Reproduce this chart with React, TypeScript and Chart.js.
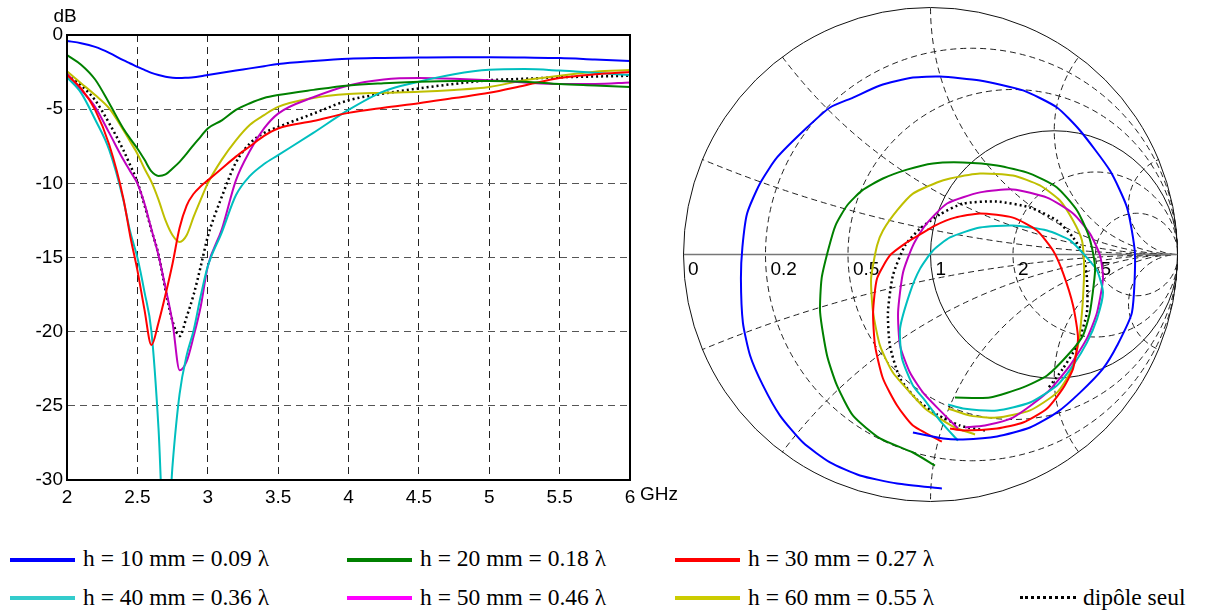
import { useEffect, useRef } from "react";
import { Chart, registerables } from "chart.js";
Chart.register(...registerables);

// ---------- Left chart data (|S11| in dB vs frequency in GHz) ----------
const freqGHz = [2.0, 2.1, 2.2, 2.3, 2.4, 2.45, 2.5, 2.55, 2.6, 2.65, 2.7, 2.75, 2.8, 2.85, 2.9, 2.95, 3.0, 3.1, 3.2, 3.3, 3.4, 3.5, 3.75, 4.0, 4.25, 4.5, 4.75, 5.0, 5.25, 5.5, 5.75, 6.0];
const dbH10 = [-0.4, -0.55, -0.8, -1.2, -1.7, -1.92, -2.15, -2.35, -2.55, -2.7, -2.82, -2.88, -2.9, -2.88, -2.85, -2.78, -2.7, -2.55, -2.4, -2.25, -2.1, -1.95, -1.75, -1.6, -1.55, -1.52, -1.5, -1.5, -1.52, -1.55, -1.65, -1.75];
const dbH20 = [-1.35, -2.0, -3.0, -4.6, -6.3, -7.0, -7.65, -8.4, -9.2, -9.5, -9.4, -9.0, -8.55, -8.0, -7.4, -6.85, -6.3, -5.75, -5.05, -4.6, -4.25, -4.05, -3.7, -3.4, -3.25, -3.15, -3.1, -3.1, -3.15, -3.3, -3.4, -3.5];
const dbH30 = [-2.7, -3.6, -5.05, -7.4, -11.0, -13.6, -15.85, -18.5, -20.9, -19.4, -17.5, -15.4, -13.0, -11.5, -10.7, -10.2, -9.8, -9.0, -8.2, -7.5, -6.8, -6.3, -5.8, -5.25, -4.9, -4.6, -4.25, -3.9, -3.4, -2.9, -2.65, -2.5];
const dbH40 = [-2.85, -3.9, -5.7, -7.75, -11.1, -13.3, -15.0, -17.3, -20.0, -26.5, -36, -29, -24.2, -21.6, -19.9, -17.6, -15.6, -13.3, -10.8, -9.5, -8.7, -8.1, -6.6, -5.05, -3.8, -3.15, -2.65, -2.35, -2.3, -2.4, -2.55, -2.7];
const dbH50 = [-2.6, -3.7, -4.85, -6.6, -8.4, -9.2, -10.0, -11.35, -13.1, -14.85, -17.05, -19.4, -22.6, -22.0, -20.3, -18.3, -15.6, -13.1, -9.8, -7.8, -6.3, -5.3, -4.2, -3.4, -3.0, -2.9, -2.95, -3.05, -3.2, -3.3, -3.3, -3.2];
const dbH60 = [-2.45, -3.25, -4.05, -4.95, -6.4, -7.2, -8.0, -9.0, -9.9, -11.1, -12.5, -13.5, -13.95, -13.5, -12.25, -11.1, -10.0, -8.4, -7.1, -6.05, -5.4, -4.85, -4.25, -3.98, -3.9, -3.83, -3.7, -3.5, -3.05, -2.75, -2.47, -2.36];
const dbDipole = [-2.7, -3.4, -4.4, -5.95, -7.75, -8.8, -9.9, -11.45, -13.15, -14.8, -17.2, -19.3, -20.3, -19.0, -17.5, -15.6, -13.6, -10.9, -8.6, -7.3, -6.6, -6.2, -5.3, -4.4, -3.95, -3.6, -3.3, -3.05, -2.95, -2.85, -2.8, -2.75];

const xMin = 2, xMax = 6, xStep = 0.5;
const yMin = -30, yMax = 0, yStep = 5;

// ---------- Smith chart data (reflection coefficient, real / imaginary) ----------
const h10Re = [0.046, -0.135, -0.285, -0.406, -0.515, -0.608, -0.677, -0.729, -0.758, -0.766, -0.760, -0.741, -0.689, -0.620, -0.499, -0.406, -0.313, -0.204, -0.071, 0.038, 0.200, 0.374, 0.511, 0.604, 0.725, 0.794, 0.826, 0.814, 0.754, 0.697, 0.604, 0.511, 0.402, 0.269, 0.131, 0.051, -0.071];
const h10Im = [-0.945, -0.925, -0.893, -0.840, -0.760, -0.651, -0.529, -0.408, -0.275, -0.097, 0.030, 0.166, 0.287, 0.392, 0.513, 0.594, 0.634, 0.683, 0.715, 0.719, 0.703, 0.663, 0.594, 0.501, 0.339, 0.190, 0.004, -0.234, -0.368, -0.461, -0.558, -0.638, -0.699, -0.735, -0.747, -0.743, -0.719];
const h20Re = [0.018, -0.071, -0.204, -0.313, -0.378, -0.418, -0.446, -0.440, -0.414, -0.384, -0.337, -0.276, -0.192, -0.095, 0.010, 0.131, 0.269, 0.402, 0.511, 0.592, 0.636, 0.657, 0.665, 0.644, 0.616, 0.564, 0.471, 0.374, 0.240, 0.099];
const h20Im = [-0.853, -0.800, -0.743, -0.651, -0.529, -0.408, -0.234, -0.097, 0.016, 0.117, 0.198, 0.259, 0.307, 0.343, 0.368, 0.372, 0.360, 0.327, 0.271, 0.178, 0.085, 0.004, -0.065, -0.234, -0.327, -0.396, -0.489, -0.537, -0.578, -0.578];
const h30Re = [0.046, -0.071, -0.135, -0.192, -0.224, -0.232, -0.216, -0.164, -0.103, -0.042, 0.018, 0.099, 0.200, 0.333, 0.430, 0.495, 0.535, 0.576, 0.596, 0.576, 0.535, 0.471, 0.374, 0.269, 0.131, 0.079];
const h30Im = [-0.756, -0.691, -0.610, -0.501, -0.368, -0.234, -0.097, -0.004, 0.044, 0.081, 0.117, 0.149, 0.166, 0.149, 0.097, 0.016, -0.073, -0.206, -0.339, -0.461, -0.541, -0.622, -0.679, -0.703, -0.711, -0.703];
const h40Re = [0.111, 0.038, -0.022, -0.071, -0.115, -0.123, -0.083, -0.042, 0.010, 0.079, 0.200, 0.333, 0.471, 0.564, 0.624, 0.673, 0.697, 0.673, 0.632, 0.576, 0.511, 0.402, 0.269, 0.131, 0.071];
const h40Im = [-0.752, -0.671, -0.590, -0.529, -0.420, -0.299, -0.154, -0.057, 0.016, 0.069, 0.109, 0.117, 0.097, 0.057, -0.004, -0.065, -0.154, -0.259, -0.356, -0.448, -0.529, -0.598, -0.630, -0.622, -0.606];
const h50Re = [0.111, 0.038, -0.030, -0.083, -0.123, -0.131, -0.111, -0.071, -0.022, 0.067, 0.200, 0.333, 0.471, 0.576, 0.644, 0.685, 0.697, 0.673, 0.632, 0.564, 0.471, 0.333, 0.220, 0.139];
const h50Im = [-0.703, -0.630, -0.558, -0.477, -0.368, -0.234, -0.073, 0.036, 0.117, 0.206, 0.251, 0.263, 0.230, 0.166, 0.085, -0.004, -0.097, -0.234, -0.339, -0.448, -0.558, -0.659, -0.691, -0.699];
const h60Re = [0.180, 0.099, 0.038, -0.022, -0.071, -0.152, -0.204, -0.232, -0.240, -0.216, -0.192, -0.135, -0.071, 0.026, 0.079, 0.200, 0.333, 0.442, 0.523, 0.576, 0.612, 0.620, 0.620, 0.612, 0.596, 0.564, 0.511, 0.402, 0.269, 0.160, 0.071];
const h60Im = [-0.727, -0.699, -0.663, -0.622, -0.570, -0.477, -0.368, -0.234, -0.097, 0.036, 0.097, 0.178, 0.246, 0.291, 0.307, 0.327, 0.319, 0.279, 0.218, 0.137, 0.057, -0.024, -0.097, -0.234, -0.368, -0.477, -0.558, -0.630, -0.659, -0.651, -0.622];
const dipoleRe = [0.220, 0.119, 0.026, -0.051, -0.123, -0.164, -0.172, -0.152, -0.103, -0.042, 0.038, 0.131, 0.269, 0.402, 0.511, 0.576, 0.616, 0.632, 0.632, 0.592, 0.535, 0.475];
const dipoleIm = [-0.711, -0.691, -0.646, -0.590, -0.501, -0.368, -0.234, -0.085, 0.036, 0.105, 0.162, 0.206, 0.214, 0.190, 0.137, 0.069, 0.004, -0.097, -0.234, -0.368, -0.461, -0.541];

const smithResistances = [0.2, 0.5, 2, 5];
const smithReactances = [0.2, 0.5, 1, 2, 5];
const smithAxisLabels = [0, 0.2, 0.5, 1, 2, 5];

// ---------- Series names and colours ----------
const seriesNames = ["h = 10 mm = 0.09 λ", "h = 20 mm = 0.18 λ", "h = 30 mm = 0.27 λ", "h = 40 mm = 0.36 λ", "h = 50 mm = 0.46 λ", "h = 60 mm = 0.55 λ", "dipôle seul"];
const lineColors = ["#0000ff", "#008000", "#ff0000", "#00bfbf", "#bf00bf", "#bfbf00", "#000000"];
const legendColors = ["#0000ff", "#008000", "#ff0000", "#33cccc", "#ff00ff", "#cccc00", "#000000"];

const dbSeries = [dbH10, dbH20, dbH30, dbH40, dbH50, dbH60, dbDipole];
const smithSeries = [
  [h10Re, h10Im], [h20Re, h20Im], [h30Re, h30Im], [h40Re, h40Im], [h50Re, h50Im], [h60Re, h60Im], [dipoleRe, dipoleIm],
];

const SANS = '"Liberation Sans", Arial, sans-serif';
const SERIF = '"Liberation Serif", "Times New Roman", serif';

const framePlugin = {
  id: "frame",
  afterDatasetsDraw(chart: any) {
    const { ctx, chartArea: a } = chart;
    ctx.save();
    ctx.strokeStyle = "#000";
    ctx.lineWidth = 2;
    ctx.setLineDash([]);
    ctx.strokeRect(a.left, a.top, a.right - a.left, a.bottom - a.top);
    ctx.fillStyle = "#000";
    ctx.font = `19px ${SANS}`;
    ctx.textBaseline = "middle";
    ctx.textAlign = "left";
    ctx.fillText("GHz", a.right + 10, a.bottom + 15);
    ctx.textAlign = "center";
    ctx.fillText("dB", 65, 17);
    ctx.restore();
  },
};

const smithGridPlugin = {
  id: "smithGrid",
  beforeDatasetsDraw(chart: any) {
    const { ctx } = chart;
    const xs = chart.scales.x;
    const ys = chart.scales.y;
    const px = (g: number) => xs.getPixelForValue(g);
    const py = (g: number) => ys.getPixelForValue(g);
    const unit = px(1) - px(0);
    const cx = px(0);
    const cy = py(0);
    ctx.save();
    ctx.beginPath();
    ctx.arc(cx, cy, unit, 0, Math.PI * 2);
    ctx.clip();
    ctx.lineWidth = 1;
    ctx.strokeStyle = "#222";
    ctx.setLineDash([6, 4]);
    for (const r of smithResistances) {
      ctx.beginPath();
      ctx.arc(px(r / (1 + r)), cy, unit / (1 + r), 0, Math.PI * 2);
      ctx.stroke();
    }
    for (const x of smithReactances) {
      for (const s of [1, -1]) {
        ctx.beginPath();
        ctx.arc(px(1), py(s / x), unit / x, 0, Math.PI * 2);
        ctx.stroke();
      }
    }
    ctx.setLineDash([]);
    ctx.strokeStyle = "#111";
    ctx.beginPath();
    ctx.arc(px(0.5), cy, unit * 0.5, 0, Math.PI * 2);
    ctx.stroke();
    ctx.restore();

    ctx.save();
    ctx.strokeStyle = "#777";
    ctx.lineWidth = 1.5;
    ctx.beginPath();
    ctx.moveTo(px(-1), cy);
    ctx.lineTo(px(1), cy);
    ctx.stroke();
    ctx.strokeStyle = "#111";
    ctx.lineWidth = 1;
    ctx.beginPath();
    ctx.arc(cx, cy, unit - 0.5, 0, Math.PI * 2);
    ctx.stroke();
    ctx.fillStyle = "#000";
    ctx.font = `19px ${SANS}`;
    ctx.textAlign = "left";
    ctx.textBaseline = "middle";
    for (const r of smithAxisLabels) {
      const g = (r - 1) / (r + 1);
      ctx.fillText(String(r), px(g) + 5, cy + 15);
    }
    ctx.restore();
  },
};

const legendLayout = [
  { i: 0, x: 10, row: 0 }, { i: 1, x: 347, row: 0 }, { i: 2, x: 675, row: 0 },
  { i: 3, x: 10, row: 1 }, { i: 4, x: 347, row: 1 }, { i: 5, x: 675, row: 1 }, { i: 6, x: 1020, row: 1 },
];
const rowLineY = [560, 598];
const rowTextTop = [545, 584];

function LegendEntry(props: { i: number; x: number; row: number }) {
  const { i, x, row } = props;
  const dotted = i === 6;
  const lineStyle: any = {
    position: "absolute",
    left: x,
    top: rowLineY[row] - 2,
    width: dotted ? 56 : 65,
    height: dotted ? 0 : 4,
    background: dotted ? "transparent" : legendColors[i],
    borderTop: dotted ? "3px dotted #000" : "none",
  };
  const textStyle: any = {
    position: "absolute",
    left: dotted ? x + 63 : x + 73,
    top: rowTextTop[row],
    fontFamily: SERIF,
    fontSize: 23.5,
    color: "#000",
    whiteSpace: "nowrap",
  };
  return (
    <div>
      <div style={lineStyle} />
      <span style={textStyle}>{seriesNames[i]}</span>
    </div>
  );
}

export default function App() {
  const leftRef = useRef<HTMLCanvasElement>(null);
  const smithRef = useRef<HTMLCanvasElement>(null);

  useEffect(() => {
    Chart.defaults.font.family = SANS;
    Chart.defaults.color = "#000";

    const left = new Chart(leftRef.current as HTMLCanvasElement, {
      type: "line",
      data: {
        datasets: dbSeries.map((arr, k) => ({
          label: seriesNames[k],
          data: freqGHz.map((f, i) => ({ x: f, y: arr[i] })),
          borderColor: lineColors[k],
          backgroundColor: lineColors[k],
          borderWidth: k === 6 ? 2.5 : 2,
          borderDash: k === 6 ? [2, 3] : [],
          pointRadius: 0,
          cubicInterpolationMode: "monotone",
          fill: false,
        })),
      },
      options: {
        animation: false,
        responsive: false,
        devicePixelRatio: 1,
        layout: { padding: { top: 35, right: 50, left: 0, bottom: 0 } },
        plugins: { legend: { display: false }, tooltip: { enabled: false } },
        scales: {
          x: {
            type: "linear",
            min: xMin,
            max: xMax,
            ticks: { stepSize: xStep, padding: 6, color: "#000", font: { size: 19 }, callback: (v: any) => String(Number(v)) },
            grid: { color: "#222", lineWidth: 1, drawTicks: false },
            border: { display: true, color: "#000", width: 2, dash: [7, 5] },
            afterFit: (s: any) => { s.height = 40; },
          },
          y: {
            type: "linear",
            min: yMin,
            max: yMax,
            ticks: { stepSize: yStep, padding: 4, color: "#000", font: { size: 19 }, callback: (v: any) => String(Number(v)) },
            grid: { color: "#555", lineWidth: 1, drawTicks: false },
            border: { display: true, color: "#000", width: 2, dash: [7, 5] },
            afterFit: (s: any) => { s.width = 67; },
          },
        },
      },
      plugins: [framePlugin],
    } as any);

    const smith = new Chart(smithRef.current as HTMLCanvasElement, {
      type: "scatter",
      data: {
        datasets: smithSeries.map(([re, im], k) => ({
          label: seriesNames[k],
          data: re.map((v, i) => ({ x: v, y: im[i] })),
          showLine: true,
          borderColor: lineColors[k],
          backgroundColor: lineColors[k],
          borderWidth: k === 6 ? 2.5 : 2,
          borderDash: k === 6 ? [2, 3] : [],
          pointRadius: 0,
          tension: 0.2,
          fill: false,
        })),
      },
      options: {
        animation: false,
        responsive: false,
        devicePixelRatio: 1,
        layout: { padding: 0 },
        plugins: { legend: { display: false }, tooltip: { enabled: false } },
        scales: {
          x: { type: "linear", min: -1, max: 1, display: false },
          y: { type: "linear", min: -1, max: 1, display: false },
        },
      },
      plugins: [smithGridPlugin],
    } as any);

    return () => {
      left.destroy();
      smith.destroy();
    };
  }, []);

  return (
    <div style={{ position: "absolute", left: 0, top: 0, width: 1221, height: 613, background: "#fff", overflow: "hidden" }}>
      <canvas ref={leftRef} width={680} height={520} style={{ position: "absolute", left: 0, top: 0, width: 680, height: 520 }} />
      <canvas ref={smithRef} width={495} height={495} style={{ position: "absolute", left: 683, top: 7, width: 495, height: 495 }} />
      {legendLayout.map((it) => (
        <LegendEntry key={it.i} i={it.i} x={it.x} row={it.row} />
      ))}
    </div>
  );
}
